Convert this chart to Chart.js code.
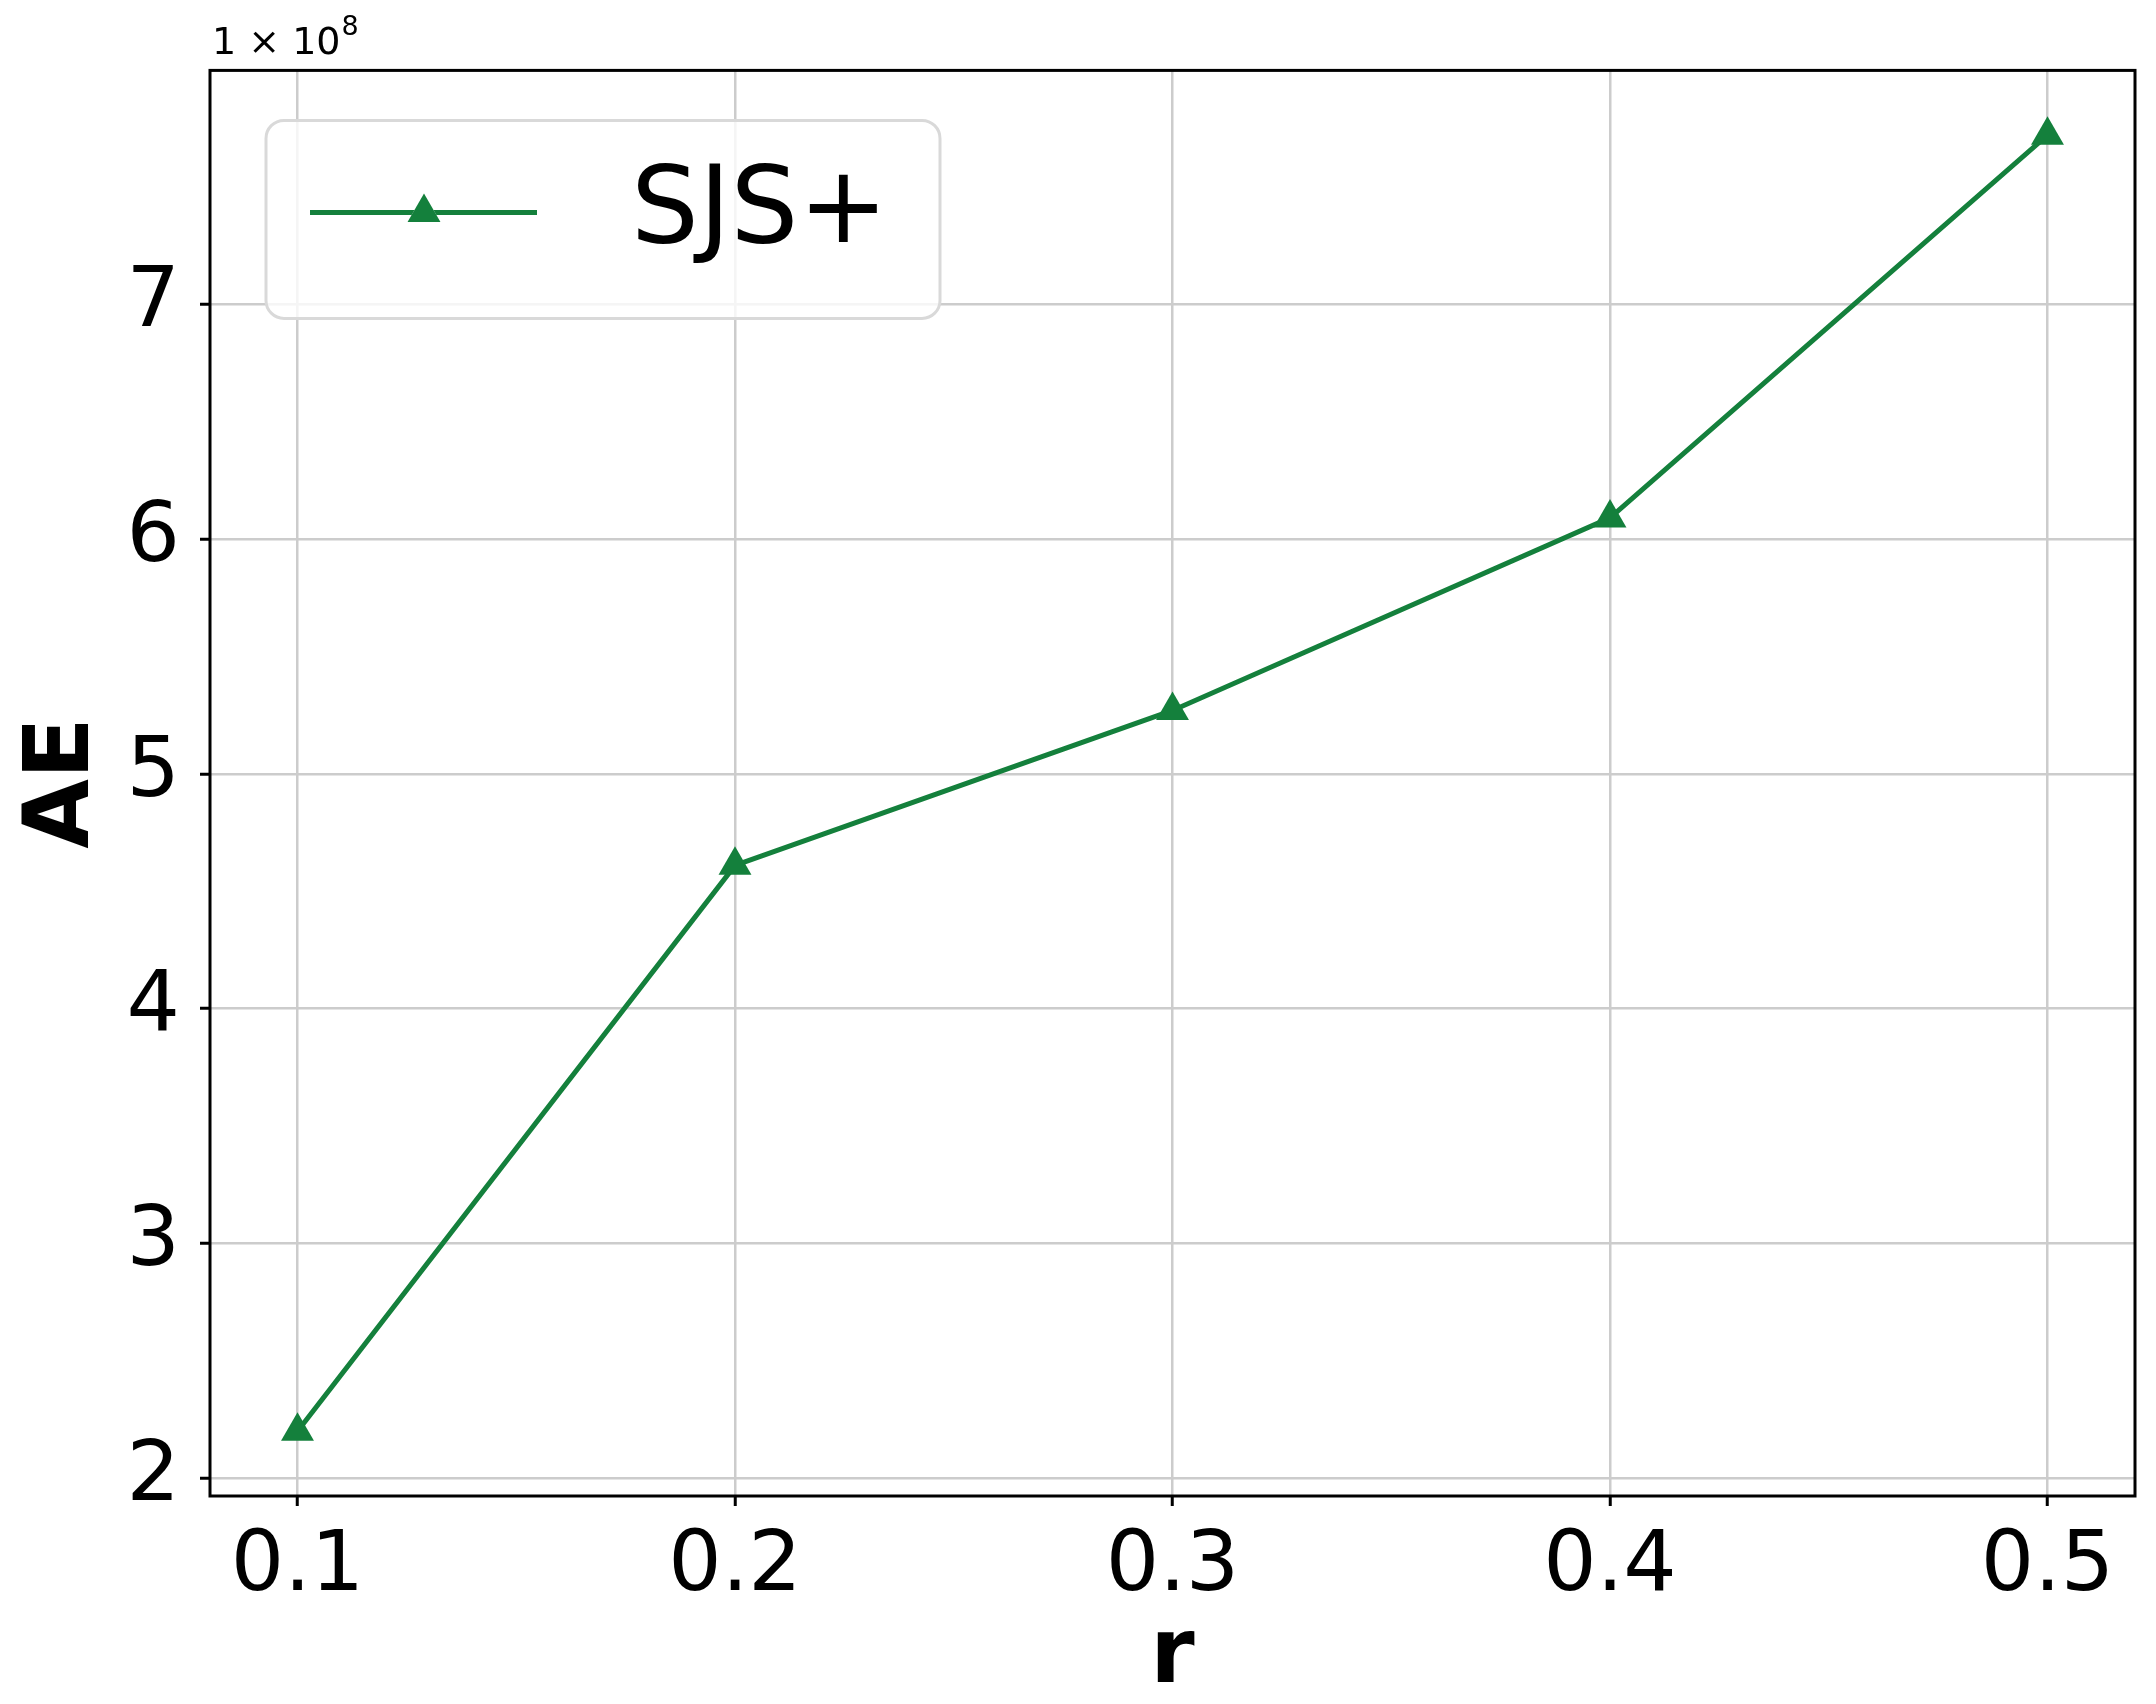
<!DOCTYPE html>
<html>
<head>
<meta charset="utf-8">
<script src="https://cdn.jsdelivr.net/npm/chart.js@4.4.1/dist/chart.umd.min.js"></script>
<style>
  html, body { margin: 0; padding: 0; background: #fff; }
  #aeChart { display: block; }
</style>
</head>
<body>
<canvas id="aeChart" width="2156" height="1704" style="width:2156px;height:1704px"></canvas>
<script>
// values
const rValues = [0.1, 0.2, 0.3, 0.4, 0.5];
const aeValues = [2.2e8, 4.61e8, 5.27e8, 6.09e8, 7.72e8];
const xTicks = [0.1, 0.2, 0.3, 0.4, 0.5];
const yTicks = [2e8, 3e8, 4e8, 5e8, 6e8, 7e8];
const seriesLabel = "SJS+";
const lineColor = "#14803c";
const FONT = "'DejaVu Sans', sans-serif";

// frame around the plot + the "1 × 10^8" offset text
const framePlugin = {
  id: "frame",
  afterDatasetsDraw(chart) {
    const { ctx, chartArea: a } = chart;
    ctx.save();
    ctx.strokeStyle = "#000";
    ctx.lineWidth = 3;
    ctx.strokeRect(a.left, a.top, a.right - a.left, a.bottom - a.top);
    ctx.fillStyle = "#000";
    ctx.textBaseline = "alphabetic";
    ctx.textAlign = "left";
    ctx.font = "38px " + FONT;
    const base = "1 \u00d7 10";
    ctx.fillText(base, a.left + 2, a.top - 16);
    const w = ctx.measureText(base).width;
    ctx.font = "27px " + FONT;
    ctx.fillText("8", a.left + 2 + w + 1, a.top - 35);
    ctx.restore();
  }
};

// legend box in the upper left of the axes
const legendPlugin = {
  id: "boxLegend",
  afterDraw(chart) {
    const { ctx, chartArea: a } = chart;
    const ds = chart.data.datasets[0];
    const x = a.left + 56, y = a.top + 58, w = 674, h = 198, r = 18;
    ctx.save();
    ctx.beginPath();
    ctx.roundRect(x, y - 8, w, h, r);
    ctx.fillStyle = "rgba(255,255,255,0.8)";
    ctx.fill();
    ctx.strokeStyle = "#d9d9d9";
    ctx.lineWidth = 3;
    ctx.stroke();
    const ly = y + 84;
    ctx.strokeStyle = ds.borderColor;
    ctx.lineWidth = ds.borderWidth;
    ctx.beginPath();
    ctx.moveTo(x + 44, ly);
    ctx.lineTo(x + 271, ly);
    ctx.stroke();
    Chart.helpers.drawPoint(ctx, { pointStyle: "triangle", radius: ds.pointRadius, borderWidth: 0 }, x + 158, ly);
    ctx.fillStyle = ds.pointBackgroundColor;
    ctx.fill();
    ctx.fillStyle = "#000";
    ctx.font = "107px " + FONT;
    ctx.textBaseline = "middle";
    ctx.fillText(ds.label, x + 365, ly + 2);
    ctx.restore();
  }
};

new Chart(document.getElementById("aeChart").getContext("2d"), {
  type: "line",
  data: {
    datasets: [{
      label: seriesLabel,
      data: rValues.map((r, i) => ({ x: r, y: aeValues[i] })),
      borderColor: lineColor,
      backgroundColor: lineColor,
      pointBackgroundColor: lineColor,
      pointBorderColor: lineColor,
      borderWidth: 5,
      pointStyle: "triangle",
      pointRadius: 19,
      pointBorderWidth: 0,
      tension: 0,
      fill: false
    }]
  },
  options: {
    responsive: false,
    animation: false,
    devicePixelRatio: 1,
    layout: { padding: { top: 62, right: 21, left: 0, bottom: 0 } },
    plugins: { legend: { display: false }, tooltip: { enabled: false } },
    scales: {
      x: {
        type: "linear",
        min: 0.08,
        max: 0.52,
        afterBuildTicks: s => { s.ticks = xTicks.map(v => ({ value: v })); },
        afterFit: s => { s.height = 208; },
        grid: { color: "#cccccc", lineWidth: 2.5, tickColor: "#000", tickLength: 10, tickWidth: 3 },
        border: { display: false },
        ticks: {
          color: "#000", padding: 12, maxRotation: 0,
          font: { family: FONT, size: 84 },
          callback: v => v.toFixed(1)
        },
        title: {
          display: true, text: "r", color: "#000",
          font: { family: FONT, size: 90, weight: "bold", lineHeight: 1 },
          padding: { top: 0, bottom: 0 }
        }
      },
      y: {
        type: "linear",
        min: 1.924e8,
        max: 7.996e8,
        afterBuildTicks: s => { s.ticks = yTicks.map(v => ({ value: v })); },
        afterFit: s => { s.width = 210; },
        grid: { color: "#cccccc", lineWidth: 2.5, tickColor: "#000", tickLength: 10, tickWidth: 3 },
        border: { display: false },
        ticks: {
          color: "#000", padding: 20,
          font: { family: FONT, size: 84 },
          callback: v => String(Math.round(v / 1e8))
        },
        title: {
          display: true, text: "AE", color: "#000",
          font: { family: FONT, size: 90, weight: "bold", lineHeight: 1 },
          padding: { top: 20, bottom: 0 }
        }
      }
    }
  },
  plugins: [framePlugin, legendPlugin]
});
</script>
</body>
</html>
